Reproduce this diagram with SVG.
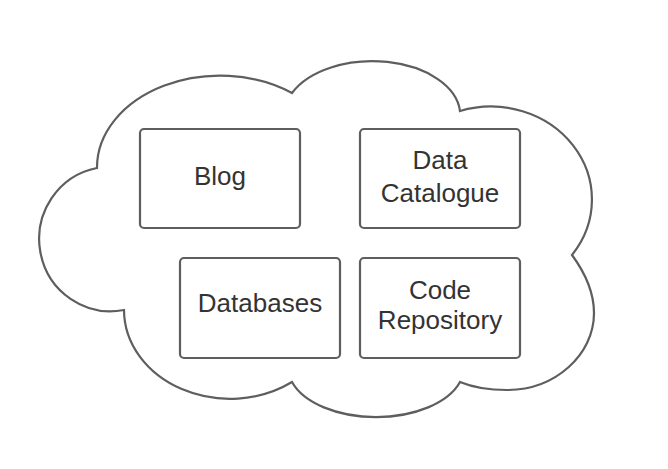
<svg xmlns="http://www.w3.org/2000/svg" width="668" height="469" viewBox="0 0 668 469">
<style>
.shape{fill:#ffffff;stroke:#5e5e5e;stroke-width:2.2;}
.lbl{font-family:"Liberation Sans",Arial,sans-serif;font-size:26px;fill:#333333;text-anchor:middle;}
</style>
<rect width="668" height="469" fill="#ffffff"/>
<g id="cloud">
<path class="shape" d="M97,168 A123,92 0 0 1 292,93 A88,54 0 0 1 460,111 A101,93 0 0 1 572,255 C583,270 594,290 594,313 C594,355 555,390 507,390 C490,390 472,387 460,382 A88,50 0 0 1 292,382 A106,89 0 0 1 124,310 A71,72 0 1 1 97,168 Z"/>
</g>
<g id="blog">
<rect class="shape" x="140" y="129" width="160" height="99" rx="4"/>
<text class="lbl" x="220" y="184.5">Blog</text>
</g>
<g id="data-catalogue">
<rect class="shape" x="360" y="129" width="160" height="99" rx="4"/>
<text class="lbl" x="440" y="169.3">Data</text>
<text class="lbl" x="440" y="202.3">Catalogue</text>
</g>
<g id="databases">
<rect class="shape" x="180" y="258" width="160" height="100" rx="4"/>
<text class="lbl" x="260" y="311.7">Databases</text>
</g>
<g id="code-repository">
<rect class="shape" x="360" y="258" width="160" height="100" rx="4"/>
<text class="lbl" x="440" y="298.5">Code</text>
<text class="lbl" x="440" y="329.3">Repository</text>
</g>
<g id="connectors"></g>
</svg>
